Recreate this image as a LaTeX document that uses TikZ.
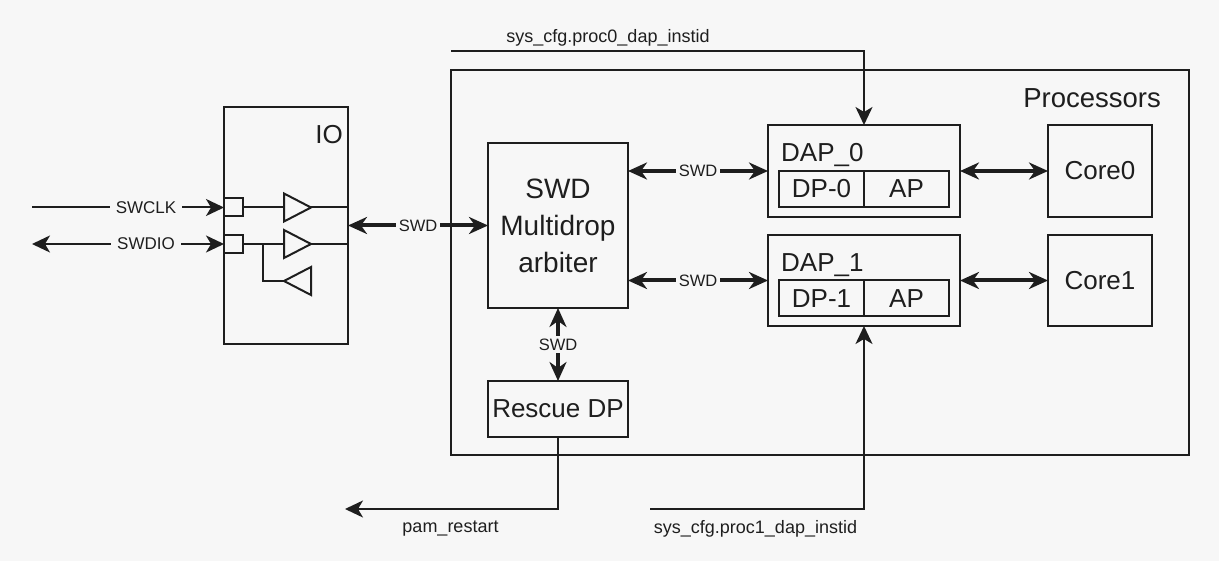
\documentclass[tikz,border=0pt]{standalone}
\usepackage{fontspec}
\setmainfont{Liberation Sans}
\usetikzlibrary{arrows.meta,calc}
\definecolor{bg}{HTML}{F7F7F7}
\definecolor{ink}{HTML}{1E1E1E}
\tikzset{
  box/.style={draw=ink,line width=2pt,minimum width=#1,inner sep=0pt,outer sep=0pt,rectangle},
  txt/.style={font=\fontsize{26}{28}\selectfont,text=ink,inner sep=0pt},
  lbl/.style={font=\fontsize{16.5}{18}\selectfont,text=ink,fill=bg,inner xsep=3pt,inner ysep=3pt},
  pinlbl/.style={font=\fontsize{17}{19}\selectfont,text=ink,fill=bg,inner xsep=6pt,inner ysep=3pt},
  sig/.style={font=\fontsize{18}{20}\selectfont,text=ink,inner sep=0pt},
  wire/.style={draw=ink,line width=2pt},
  bus/.style={draw=ink,line width=4pt},
  tip/.style={-{Stealth[length=18pt,width=17pt,inset=5pt]}},
  dtip/.style={{Stealth[length=18pt,width=17pt,inset=5pt]}-{Stealth[length=18pt,width=17pt,inset=5pt]}},
  btip/.style={{Stealth[length=19pt,width=17pt,inset=6pt]}-{Stealth[length=19pt,width=17pt,inset=6pt]}},
  buf/.style={draw=ink,line width=2pt,line join=miter},
}
\begin{document}
\begin{tikzpicture}[x=1pt,y=-1pt]
\fill[bg] (0,0) rectangle (1219,561);
\useasboundingbox (0,0) rectangle (1219,561);
% containers
\node[box=124pt,minimum height=237pt] (io) at (286,225.5) {};
\node[box=737.5pt,minimum height=385pt] (proc) at (819.75,262.5) {};
\node[box=140pt,minimum height=165pt,align=center,txt,font=\fontsize{28}{37}\selectfont] (arb) at (558,225.5) {SWD\\Multidrop\\arbiter};
\node[box=192pt,minimum height=92pt] (dap0) at (864,171) {};
\node[box=192pt,minimum height=91pt] (dap1) at (864,280.5) {};
\node[box=85pt,minimum height=36pt,txt] (dp0) at (821.5,189) {DP-0};
\node[box=85pt,minimum height=36pt,txt] (ap0) at (906.5,189) {AP};
\node[box=85pt,minimum height=36pt,txt] (dp1) at (821.5,298.5) {DP-1};
\node[box=85pt,minimum height=36pt,txt] (ap1) at (906.5,298.5) {AP};
\node[box=104pt,minimum height=92pt,txt] (core0) at (1100,171) {Core0};
\node[box=104pt,minimum height=91pt,txt] (core1) at (1100,280.5) {Core1};
\node[box=140pt,minimum height=56pt,txt] (rescue) at (558,409) {Rescue DP};
% captions
\node[txt,anchor=east,font=\fontsize{27.5}{29}\selectfont] (proctxt) at (1161,98) {Processors};
\node[txt,anchor=east] (iotxt) at (343,135) {IO};
\node[txt,anchor=west] (dap0txt) at (781,155) {DAP\_0};
\node[txt,anchor=west] (dap1txt) at (781,265) {DAP\_1};
% IO pads
\node[box=19pt,minimum height=18pt] (pad0) at (233.5,207.5) {};
\node[box=19pt,minimum height=18pt] (pad1) at (233.5,244) {};
% buffers
\coordinate (b0in) at (284,207.5);
\coordinate (b0out) at (311,207.5);
\coordinate (b1in) at (284,244);
\coordinate (b1out) at (311,244);
\coordinate (b2tip) at (284,281);
\coordinate (junction) at (263,244);
\draw[buf] (b0in) ++(0,-14) -- (b0out) -- ++(-27,14) -- cycle;
\draw[buf] (b1in) ++(0,-14) -- (b1out) -- ++(-27,14) -- cycle;
\draw[buf] (b2tip) -- ++(27,-14) -- ++(0,28) -- cycle;
\draw[wire] (pad0.east) -- (b0in);
\draw[wire] (b0out) -- (b0out -| io.east);
\draw[wire] (pad1.east) -- (b1in);
\draw[wire] (b1out) -- (b1out -| io.east);
\draw[wire] (junction) |- (b2tip);
% external pins
\coordinate (clkstart) at (32,207.5);
\coordinate (diostart) at (32,244);
\draw[wire,tip] (clkstart) -- node[pinlbl,pos=0.594] (clklbl) {SWCLK} (pad0.west);
\draw[wire,dtip] (diostart) -- node[pinlbl,pos=0.594] (diolbl) {SWDIO} (pad1.west);
% SWD buses
\draw[bus,btip] (arb -| io.east) -- node[lbl] (swd1) {SWD} (arb.west);
\draw[bus,btip] (arb.east |- dp0.north) -- node[lbl] (swd2) {SWD} (dap0.west |- dp0.north);
\draw[bus,btip] (arb.east |- dp1.north) -- node[lbl] (swd3) {SWD} (dap1.west |- dp1.north);
\draw[bus,btip] (arb.south) -- node[lbl,inner xsep=2pt,inner ysep=3pt] (swd4) {SWD} (rescue.north);
\draw[bus,btip] (dap0.east |- core0) -- (core0.west);
\draw[bus,btip] (dap1.east |- core1) -- (core1.west);
% config lines
\coordinate (cfg0) at (451,51);
\coordinate (cfg1) at (650,509);
\coordinate (pamend) at (345,509);
\draw[wire,tip] (cfg0) -| (dap0.north);
\draw[wire,tip] (cfg1) -| (dap1.south);
\draw[wire,tip] (rescue.south) |- (pamend);
\node[sig] (cfg0txt) at (608,37.5) {sys\_cfg.proc0\_dap\_instid};
\node[sig] (cfg1txt) at (755.5,528.5) {sys\_cfg.proc1\_dap\_instid};
\node[sig] (pamtxt) at (450.5,528.5) {pam\_restart};
\end{tikzpicture}
\end{document}
